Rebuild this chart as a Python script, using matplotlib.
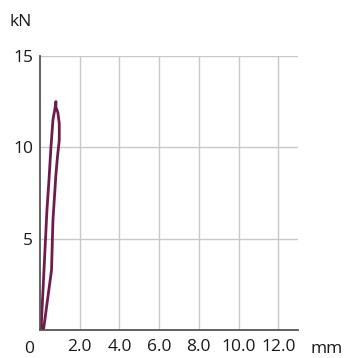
import numpy as np
import matplotlib.pyplot as plt

# load–displacement trace (loading branch then unloading branch)
disp_mm = [0.05, 0.15, 0.25, 0.35, 0.45, 0.55, 0.65, 0.75, 0.80,
           0.80, 0.90, 0.97, 0.97, 0.88, 0.80, 0.65, 0.58, 0.17]
force_kn = [0.0, 2.2, 4.4, 6.6, 8.2, 10.0, 11.5, 12.1, 12.5,
            12.2, 11.9, 11.3, 10.4, 9.5, 8.5, 6.0, 3.3, 0.0]

x_ticks = [2, 4, 6, 8, 10, 12]
x_labels = ["2.0", "4.0", "6.0", "8.0", "10.0", "12.0"]
y_ticks = [5, 10, 15]
y_labels = ["5", "10", "15"]

plt.rcParams['font.family'] = ['Open Sans', 'DejaVu Sans']
fs = 12.5

fig = plt.figure(figsize=(3.45, 3.58), dpi=100)
ax = fig.add_axes([0.116, 0.077, 0.748, 0.767])

ax.plot(disp_mm, force_kn, color="#6e1c4c", lw=2.0, solid_joinstyle="round")

ax.set_xlim(0, 13)
ax.set_ylim(0, 15)
ax.set_xticks(x_ticks)
ax.set_xticklabels(x_labels)
ax.set_yticks(y_ticks)
ax.set_yticklabels(y_labels)
ax.tick_params(length=0, labelsize=fs, colors="#1a1a1a")
ax.tick_params(axis="x", pad=6)
ax.tick_params(axis="y", pad=5)

ax.grid(True, color="#c8c8c8", lw=1.0)
ax.set_axisbelow(True)
for side in ("top", "right"):
    ax.spines[side].set_visible(False)
for side in ("left", "bottom"):
    ax.spines[side].set_color("#555555")
    ax.spines[side].set_linewidth(1.3)

fig.text(29 / 345, 1 - 349 / 358, "0", ha="center", va="center", fontsize=fs, color="#1a1a1a")
fig.text(327 / 345, 1 - 349 / 358, "mm", ha="center", va="center", fontsize=fs, color="#1a1a1a")
fig.text(21 / 345, 1 - 22 / 358, "kN", ha="center", va="center", fontsize=fs, color="#1a1a1a")

fig.savefig("out.png", dpi=100)
